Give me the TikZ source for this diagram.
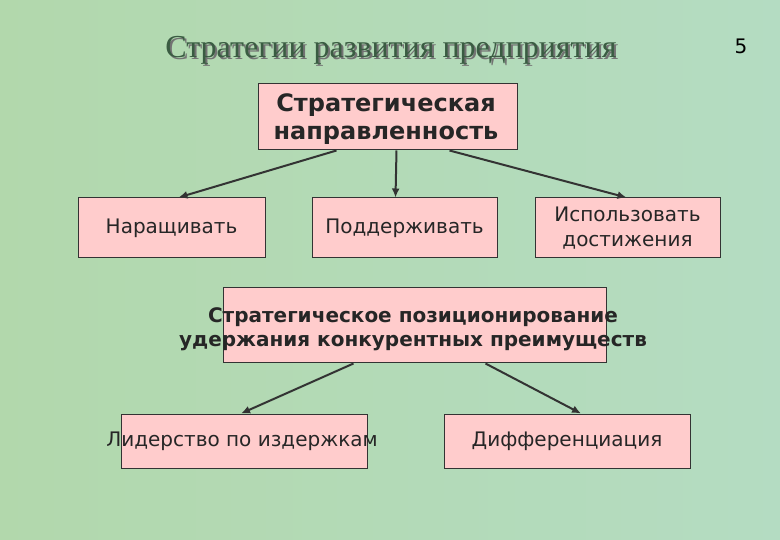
\documentclass[tikz,border=0pt]{standalone}
\usepackage{fontspec}
\setmainfont{DejaVu Sans}
\newfontfamily\titlefont{Liberation Serif}
\usetikzlibrary{arrows.meta}

\definecolor{bgleft}{RGB}{178,216,172}
\definecolor{bgmid}{RGB}{208,228,188}
\definecolor{bgright}{RGB}{180,220,194}
\definecolor{boxpink}{RGB}{255,204,204}
\definecolor{edgegray}{RGB}{51,51,51}
\definecolor{titlegreen}{RGB}{58,92,66}

\begin{document}
\begin{tikzpicture}[x=1pt, y=-1pt, >={Latex[length=9pt,width=8pt]},
    box/.style={draw=edgegray, line width=1pt, fill=boxpink, inner sep=0pt},
    txt/.style={text=black!85, align=center, font=\fontsize{20}{25}\selectfont},
    boldtxt/.style={txt, font=\bfseries\fontsize{20}{24}\selectfont},
    link/.style={->, draw=edgegray, line width=2pt}]
    \useasboundingbox (0,0) rectangle (780,540);
    \shade[left color=bgleft, middle color=bgmid, right color=bgright] (0,0) rectangle (780,540);

    % title
    \node (shadow) [font=\titlefont\fontsize{32}{36}\selectfont, text=black!55] at (393,52) {Стратегии развития предприятия};
    \node (title) [font=\titlefont\fontsize{32}{36}\selectfont, text=titlegreen] at (391,50) {Стратегии развития предприятия};
    \node (page) [font=\fontsize{20}{22}\selectfont] at (741,46) {5};

    % boxes
    \node (dir) [box, minimum width=259pt, minimum height=66pt] at (387.5,117) {};
    \node (grow) [box, minimum width=187pt, minimum height=60pt] at (171.5,228) {};
    \node (keep) [box, minimum width=185pt, minimum height=60pt] at (404.5,228) {};
    \node (use) [box, minimum width=185pt, minimum height=60pt] at (627.5,228) {};
    \node (pos) [box, minimum width=383pt, minimum height=75pt] at (414.5,325.5) {};
    \node (lead) [box, minimum width=246pt, minimum height=54pt] at (244,441) {};
    \node (diff) [box, minimum width=246pt, minimum height=54pt] at (567,441) {};

    % texts
    \node (dirtext) [boldtxt, font=\bfseries\fontsize{24}{28}\selectfont] at (386,119) {Стратегическая\\направленность};
    \node (growtext) [txt] at (grow) {Наращивать};
    \node (keeptext) [txt] at (keep) {Поддерживать};
    \node (usetext) [txt] at (use) {Использовать\\достижения};
    \node (postext) [boldtxt] at (413,329) {Стратегическое позиционирование\\удержания конкурентных преимуществ};
    \node (leadtext) [txt] at (242,441) {Лидерство по издержкам};
    \node (difftext) [txt] at (diff) {Дифференциация};

    % arrows
    \draw[link] ([xshift=-51pt]dir.south) -- ([xshift=7pt]grow.north);
    \draw[link] ([xshift=9pt]dir.south) -- ([xshift=-9pt]keep.north);
    \draw[link] ([xshift=62pt]dir.south) -- ([xshift=-1pt]use.north);
    \draw[link] ([xshift=-61pt]pos.south) -- ([xshift=-3pt]lead.north);
    \draw[link] ([xshift=71pt]pos.south) -- ([xshift=14pt]diff.north);
\end{tikzpicture}
\end{document}
